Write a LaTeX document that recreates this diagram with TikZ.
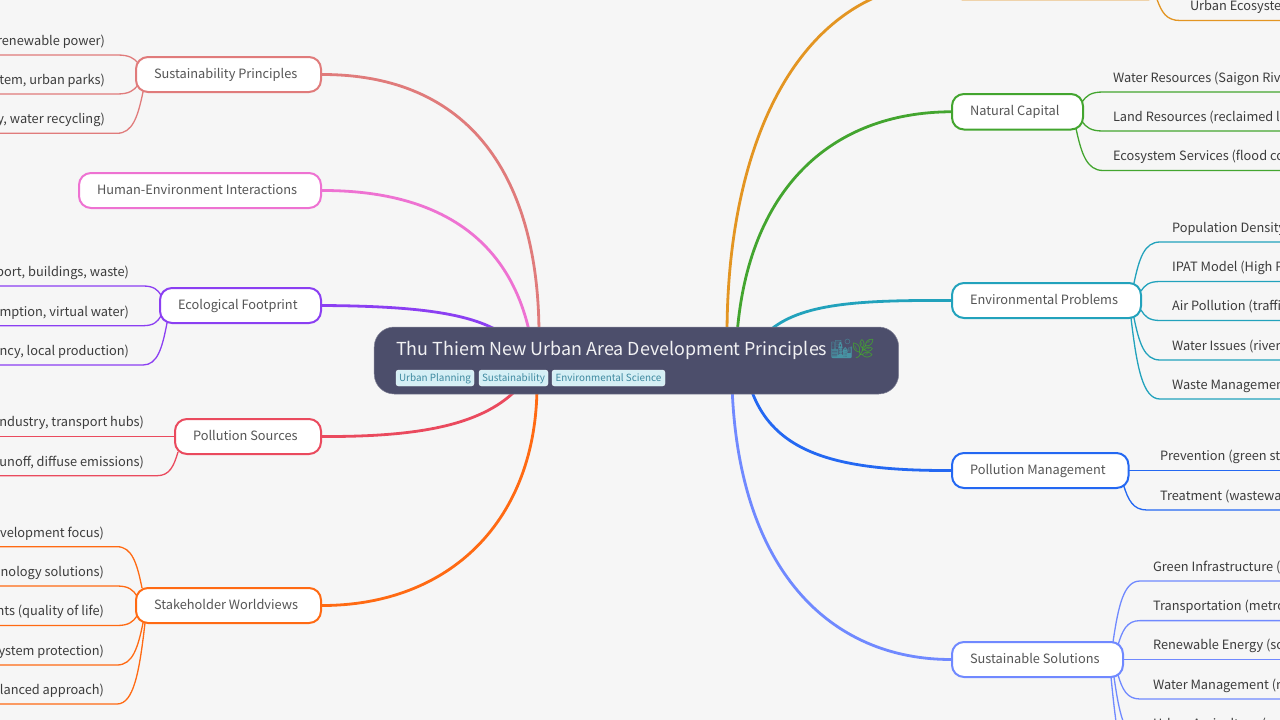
\documentclass[tikz,border=0pt]{standalone}
\usepackage{fontspec}
\setmainfont{Noto Sans CJK SC}
\newfontfamily\emojifont{Noto Emoji}
\usetikzlibrary{calc}
\pgfdeclarelayer{bg}
\pgfdeclarelayer{edges}
\pgfsetlayers{bg,edges,main}
\definecolor{cSus}{HTML}{E07B7B}
\definecolor{cHum}{HTML}{EE72D2}
\definecolor{cEco}{HTML}{8B3FF2}
\definecolor{cPol}{HTML}{EA4A5E}
\definecolor{cSta}{HTML}{FF6A13}
\definecolor{cOra}{HTML}{E39522}
\definecolor{cGre}{HTML}{43A52F}
\definecolor{cTea}{HTML}{22A2BC}
\definecolor{cMan}{HTML}{2468F2}
\definecolor{cSol}{HTML}{7089FF}
\definecolor{rootfill}{HTML}{4C4E6B}
\definecolor{pagebg}{HTML}{F6F6F6}
\definecolor{tagfill}{HTML}{D5EFF5}
\definecolor{tagtext}{HTML}{3F8AA0}
\definecolor{branchtext}{HTML}{555555}
\definecolor{leaftext}{HTML}{3C3C3C}
\tikzset{
  branchbox/.style={draw=#1,fill=white,line width=2pt,rounded corners=12pt,inner sep=0pt,outer sep=0pt,
    anchor=north west,font=\fontsize{12.8}{16}\selectfont,text=branchtext,text height=10pt,text depth=3pt},
  leafbox/.style={inner sep=0pt,outer sep=0pt,font=\fontsize{12.8}{16}\selectfont,text=leaftext,text height=12pt,text depth=9.7pt},
  mainline/.style={draw=#1,line width=2.8pt},
  leafline/.style={draw=#1,line width=1.3pt},
  tagbox/.style={fill=tagfill,draw=white!70!tagfill,line width=.4pt,rounded corners=2.5pt,inner sep=0pt,outer sep=0pt,
    anchor=north west,minimum height=16pt,text=tagtext,font=\fontsize{9.9}{12}\selectfont,text height=9pt,text depth=1.4pt},
}
\newcommand{\branchnode}[7]{\node[branchbox=#2,minimum height=#6pt] (#1) at (#3,#4) {\makebox[#5pt][l]{\hspace{18pt}#7}};}
\newcommand{\rleaf}[5]{\node[leafbox,anchor=south west] (#1) at (#2,#3) {\kern#4pt #5};}
\newcommand{\lleaf}[5]{\node[leafbox,anchor=south east] (#1) at (#2,#3) {#5\kern#4pt};}
\newcommand{\leafedge}[4]{%
  \coordinate (s) at #2;
  \coordinate (e) at (#3);
  \coordinate (a1) at ($(s)!.2!(e)$);
  \coordinate (a2) at ($(s)!.6!(e)$);
  \coordinate (a3) at ($(s)!.4!(e)$);
  \draw[leafline=#1] (s) .. controls (a1 |- a2) and (a3 |- e) .. (e) -- (e -| #4);}
\begin{document}
\begin{tikzpicture}[x=1pt,y=-1pt]
\useasboundingbox (0,0) rectangle (1280,720);
\clip (0,0) rectangle (1280,720);
\begin{pgfonlayer}{bg}
\fill[pagebg] (0,0) rectangle (1280,720);
\end{pgfonlayer}
\coordinate (edgeL) at (-5,0);
\coordinate (edgeR) at (1285,0);
% root
\node[fill=rootfill,draw=rootfill!70!white,line width=.5pt,rounded corners=20pt,inner sep=0pt,outer sep=0pt,anchor=north west,minimum width=524.5pt,minimum height=67pt] (root) at (374.2,327) {};
\node[anchor=west,inner sep=0pt,text=white!92!rootfill,font=\fontsize{17.9}{22}\selectfont,text height=14pt,text depth=4pt] (title) at (396,350) {Thu Thiem New Urban Area Development Principles};
\node[anchor=west,inner sep=0pt,font=\fontsize{19}{24}\selectfont\emojifont,text=cTea!60!gray] (emA) at (829.5,349) {🏙};
\node[anchor=west,inner sep=0pt,font=\fontsize{19}{24}\selectfont\emojifont,text=cGre] (emB) at (851,349) {🌿};
\node[tagbox,minimum width=78pt] (tagA) at (396,370) {Urban Planning};
\node[tagbox,minimum width=69pt] (tagB) at (479,370) {Sustainability};
\node[tagbox,minimum width=113pt] (tagC) at (552,370) {Environmental Science};
% branches
\branchnode{sus}{cSus}{136}{57}{185}{35}{Sustainability Principles}
\branchnode{hum}{cHum}{79}{173}{242}{35}{Human-Environment Interactions}
\branchnode{eco}{cEco}{160}{288}{161}{35}{Ecological Footprint}
\branchnode{pol}{cPol}{175}{419}{146}{35}{Pollution Sources}
\branchnode{sta}{cSta}{136}{588}{185}{35}{Stakeholder Worldviews}
\branchnode{ora}{cOra}{951}{-36}{209}{35.4}{}
\branchnode{nat}{cGre}{952}{94}{131}{35.5}{Natural Capital}
\branchnode{env}{cTea}{952}{283}{189}{35}{Environmental Problems}
\branchnode{man}{cMan}{952}{453}{176.5}{35}{Pollution Management}
\branchnode{sol}{cSol}{952}{642}{171}{35}{Sustainable Solutions}
% left leaves
\lleaf{sA}{117}{55}{12}{renewable power)}
\lleaf{sB}{117}{94}{12}{tem, urban parks)}
\lleaf{sC}{117}{133.3}{12}{y, water recycling)}
\lleaf{eA}{143}{286}{14}{port, buildings, waste)}
\lleaf{eB}{143}{325.7}{14}{mption, virtual water)}
\lleaf{eC}{143}{365}{14}{ncy, local production)}
\lleaf{pA}{157}{436.5}{13}{ndustry, transport hubs)}
\lleaf{pB}{157}{475.7}{13}{unoff, diffuse emissions)}
\lleaf{tA}{117}{546.7}{13}{velopment focus)}
\lleaf{tB}{117}{586}{13}{nology solutions)}
\lleaf{tC}{117}{625.5}{13}{nts (quality of life)}
\lleaf{tD}{117}{665}{13}{ystem protection)}
\lleaf{tE}{117}{704}{13}{lanced approach)}
% right leaves
\rleaf{oA}{1180}{20.5}{10}{Urban Ecosyste}
\rleaf{nA}{1103}{92}{10}{Water Resources (Saigon Riv}
\rleaf{nB}{1103}{131}{10}{Land Resources (reclaimed l}
\rleaf{nC}{1103}{170.5}{10}{Ecosystem Services (flood co}
\rleaf{vA}{1160}{242}{12}{Population Density}
\rleaf{vB}{1160}{281.5}{12}{IPAT Model (High P}
\rleaf{vC}{1160}{320.5}{12}{Air Pollution (traffi}
\rleaf{vD}{1160}{360}{12}{Water Issues (river}
\rleaf{vE}{1160}{399}{12}{Waste Managemen}
\rleaf{mA}{1147}{470.5}{13}{Prevention (green st}
\rleaf{mB}{1147}{510}{13}{Treatment (wastewa}
\rleaf{lA}{1140}{581}{13}{Green Infrastructure (}
\rleaf{lB}{1140}{620.6}{13}{Transportation (metro}
\rleaf{lC}{1140}{659.5}{13}{Renewable Energy (so}
\rleaf{lD}{1140}{699}{13}{Water Management (r}
\rleaf{lE}{1140}{738}{13}{Urban Agriculture (}
\coordinate (lF) at (1140,777);
\begin{pgfonlayer}{edges}
% main connectors
\draw[mainline=cSus] (sus.east) .. controls (480,74) and (539,190) .. (539,335);
\draw[mainline=cHum] (hum.east) .. controls (440,190) and (510,240) .. (530,335);
\draw[mainline=cEco] (eco.east) .. controls (420,306) and (470,314) .. (500,332);
\draw[mainline=cPol] (pol.east) .. controls (420,437) and (485,425) .. (520,386);
\draw[mainline=cSta] (sta.east) .. controls (450,606) and (537,520) .. (537,385);
\draw[mainline=cOra] (ora.west) .. controls (800,-18) and (727,140) .. (727,335);
\draw[mainline=cGre] (nat.west) .. controls (830,112) and (748,190) .. (737,335);
\draw[mainline=cTea] (env.west) .. controls (860,300) and (800,303) .. (768,332);
\draw[mainline=cMan] (man.west) .. controls (840,471) and (772,455) .. (750,386);
\draw[mainline=cSol] (sol.west) .. controls (830,660) and (738,570) .. (732,385);
% leaf connectors
\leafedge{cSus}{($(sus.north west)+(2,6)$)}{sA.south east}{edgeL}
\leafedge{cSus}{($(sus.south west)+(2,-7)$)}{sB.south east}{edgeL}
\leafedge{cSus}{($(sus.south west)+(7,0)$)}{sC.south east}{edgeL}
\leafedge{cEco}{($(eco.north west)+(1,7)$)}{eA.south east}{edgeL}
\leafedge{cEco}{($(eco.south west)+(1,-7)$)}{eB.south east}{edgeL}
\leafedge{cEco}{($(eco.south west)+(7,0)$)}{eC.south east}{edgeL}
\leafedge{cPol}{(pol.west)}{pA.south east}{edgeL}
\leafedge{cPol}{($(pol.south west)+(3,-2)$)}{pB.south east}{edgeL}
\leafedge{cSta}{($(sta.north west)+(6,0)$)}{tA.south east}{edgeL}
\leafedge{cSta}{($(sta.north west)+(1,8)$)}{tB.south east}{edgeL}
\leafedge{cSta}{($(sta.south west)+(1,-7)$)}{tC.south east}{edgeL}
\leafedge{cSta}{($(sta.south west)+(7,0)$)}{tD.south east}{edgeL}
\leafedge{cSta}{($(sta.south west)+(9,0)$)}{tE.south east}{edgeL}
\leafedge{cOra}{($(ora.south east)+(-3,0)$)}{oA.south west}{edgeR}
\leafedge{cGre}{($(nat.north east)+(-1,8)$)}{nA.south west}{edgeR}
\leafedge{cGre}{($(nat.south east)+(-1,-8)$)}{nB.south west}{edgeR}
\leafedge{cGre}{($(nat.south east)+(-7,-1)$)}{nC.south west}{edgeR}
\leafedge{cTea}{($(env.north east)+(-7,0)$)}{vA.south west}{edgeR}
\leafedge{cTea}{($(env.north east)+(0,8)$)}{vB.south west}{edgeR}
\leafedge{cTea}{($(env.south east)+(0,-8)$)}{vC.south west}{edgeR}
\leafedge{cTea}{($(env.south east)+(-7,0)$)}{vD.south west}{edgeR}
\leafedge{cTea}{($(env.south east)+(-10,0)$)}{vE.south west}{edgeR}
\leafedge{cMan}{(man.east)}{mA.south west}{edgeR}
\leafedge{cMan}{($(man.south east)+(-5,-3)$)}{mB.south west}{edgeR}
\leafedge{cSol}{($(sol.north east)+(-10,0)$)}{lA.south west}{edgeR}
\leafedge{cSol}{($(sol.north east)+(-5,3)$)}{lB.south west}{edgeR}
\leafedge{cSol}{(sol.east)}{lC.south west}{edgeR}
\leafedge{cSol}{($(sol.south east)+(-5,-2)$)}{lD.south west}{edgeR}
\leafedge{cSol}{($(sol.south east)+(-9,0)$)}{lE.south west}{edgeR}
\leafedge{cSol}{($(sol.south east)+(-12,0)$)}{lF}{edgeR}
\end{pgfonlayer}
\end{tikzpicture}
\end{document}
